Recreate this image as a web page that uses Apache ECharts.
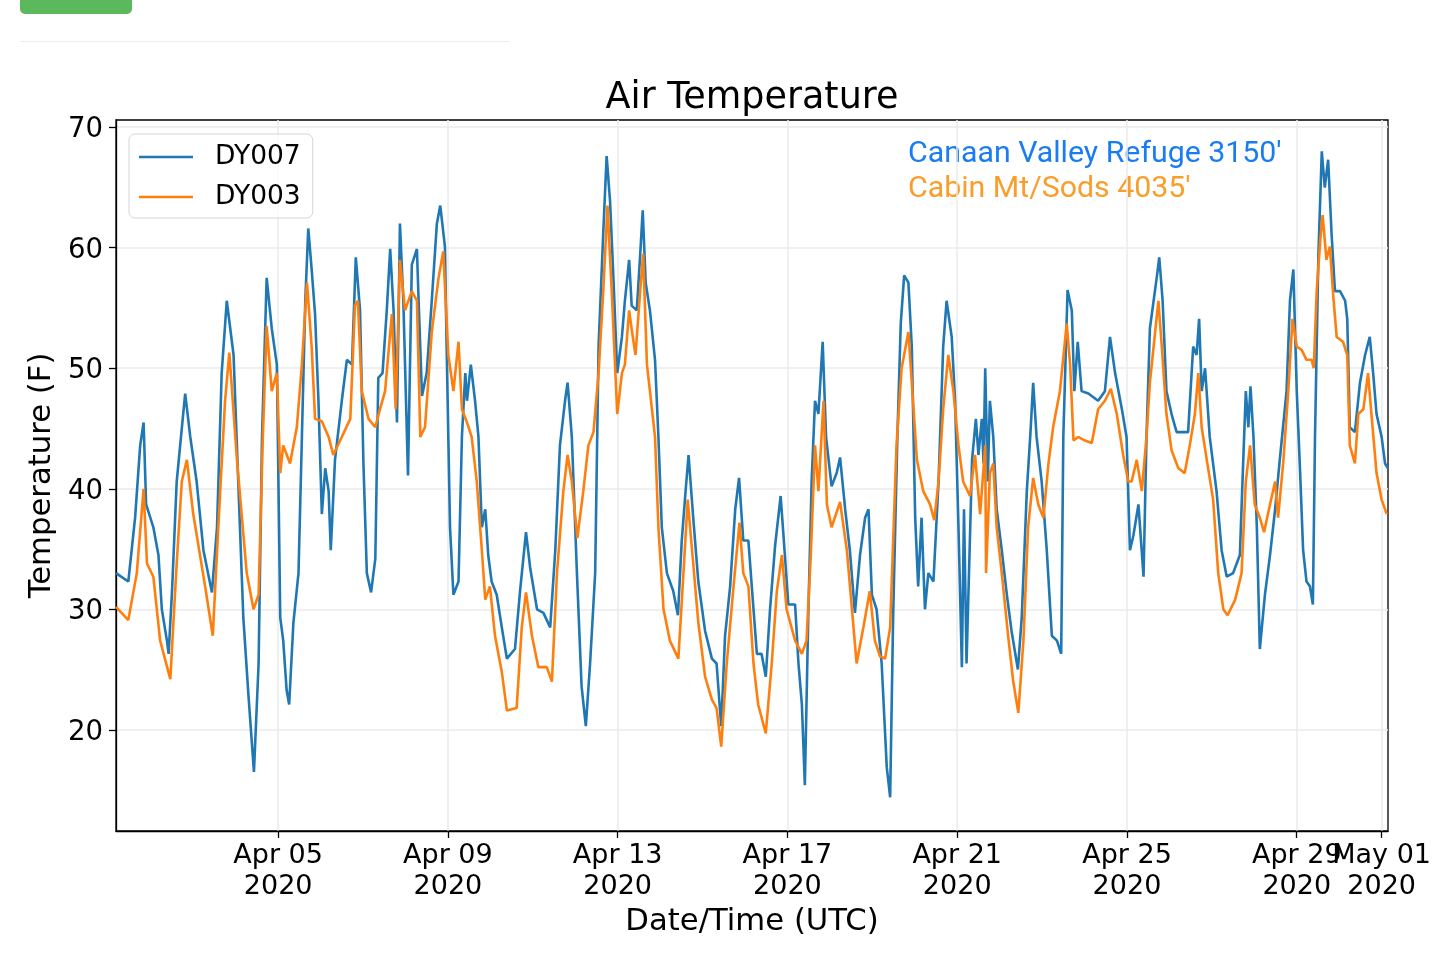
<!DOCTYPE html>
<html>
<head>
<meta charset="utf-8">
<title>Air Temperature</title>
<script src="https://cdn.jsdelivr.net/npm/echarts@6.0.0/dist/echarts.min.js"></script>
<style>
	html, body { margin: 0; padding: 0; background: #fff; }
	#chart { width: 1440px; height: 955px; }
	.btn-top { position: absolute; left: 20px; top: -10px; width: 112px; height: 24px; background: #5cb85c; border-radius: 5px; }
	.rule-top { position: absolute; left: 20px; top: 41px; width: 490px; height: 1px; background: #eeeeee; }
</style>
</head>
<body>
<div class="btn-top"></div>
<div class="rule-top"></div>
<div id="chart"></div>
<script type="text/javascript">
	// days since 2020-04-01 00:00 UTC, temperature (F)
	var dy007Days = [0.18,0.47,0.63,0.75,0.83,0.89,1.06,1.18,1.26,1.38,1.42,1.50,1.61,1.73,1.81,1.93,2.08,2.24,2.44,2.56,2.67,2.79,2.95,3.06,3.18,3.30,3.43,3.54,3.62,3.73,
		3.85,3.97,4.05,4.12,4.20,4.26,4.36,4.48,4.56,4.64,4.71,4.79,4.87,4.95,5.03,5.11,5.19,5.24,5.34,5.50,5.62,5.74,5.83,5.93,6.01,6.09,6.19,6.29,6.36,6.46,6.56,6.64,6.72,6.80,6.87,6.95,7.06,7.15,7.27,7.31,7.39,7.50,7.62,7.74,7.82,7.93,
		7.97,8.05,8.13,8.25,8.33,8.41,8.45,8.54,8.64,8.72,8.80,8.88,8.95,9.03,9.15,9.27,9.39,9.58,9.70,9.84,9.94,10.10,10.25,10.41,10.53,10.64,10.76,10.82,10.92,11.04,11.15,11.25,11.35,11.47,11.55,11.66,11.74,11.82,11.90,11.99,12.10,
		12.17,12.27,12.33,12.45,12.53,12.59,12.66,12.76,12.88,12.96,13.04,13.16,13.31,13.42,13.51,13.60,13.67,13.78,13.90,14.06,14.22,14.33,14.44,14.53,14.65,14.77,14.86,14.96,15.08,15.16,15.28,15.39,15.49,15.59,15.71,15.84,15.94,16.02,
		16.18,16.26,16.34,16.41,16.49,16.57,16.65,16.73,16.83,16.91,17.04,17.16,17.24,17.36,17.47,17.59,17.71,17.83,17.91,17.99,18.10,18.22,18.34,18.42,18.49,18.59,18.67,18.75,18.85,18.93,19.01,19.08,19.16,19.24,19.32,19.44,19.56,19.67,19.75,19.87,19.95,20.03,20.11,20.16,20.22,
		20.35,20.44,20.50,20.58,20.62,20.66,20.72,20.77,20.85,20.93,21.05,21.17,21.28,21.43,21.52,21.64,21.72,21.79,21.87,21.99,22.11,22.23,22.35,22.45,22.50,22.60,22.70,22.76,22.84,22.93,23.09,23.32,23.48,23.60,23.72,23.88,23.99,24.07,24.15,24.27,24.39,24.46,24.54,
		24.70,24.76,24.84,24.93,25.05,25.17,25.32,25.44,25.56,25.64,25.70,25.76,25.84,25.95,26.11,26.23,26.35,26.50,26.66,26.74,26.80,26.86,26.91,26.98,27.06,27.13,27.25,27.37,27.49,27.60,27.76,27.84,27.92,28.00,28.08,28.15,28.23,28.31,28.38,28.43,28.51,28.59,28.66,28.74,28.82,28.90,29.02,29.14,29.19,29.25,29.37,29.49,29.61,29.72,29.80,29.88,30.00,30.08,30.15];
	var dy007Temp = [33.0,32.3,37.6,43.6,45.5,38.7,36.8,34.5,30,27.4,26.3,31.5,40.6,45,47.9,44.3,40.6,34.9,31.4,36.8,49.6,55.6,51.1,40.6,29.3,22.9,16.5,25.5,44.3,57.5,
		53.3,50.3,29.3,27.4,23.3,22.1,28.9,33,44.3,55.6,61.6,58.2,54.5,47.3,37.9,41.7,39.8,34.9,42.4,47.3,50.7,50.3,59.2,54.8,42.1,33,31.4,34.2,49.2,49.6,54.8,59.9,54.8,45.5,62,55.6,41.1,58.6,59.9,55.6,47.7,49.6,55.6,62,63.5,60.1,
		51.8,36.8,31.2,32.3,44.3,49.6,47.3,50.3,47.3,44.3,36.8,38.3,34.5,32.3,31.2,28.5,25.9,26.7,31.5,36.4,33.4,30,29.7,28.5,34.9,43.6,47.3,48.8,44.3,33,23.6,20.3,25.5,33,51.8,61.2,67.6,63.9,57.5,49.6,52.6,
		55.6,59,55.2,54.8,59.4,63.1,57.1,54.8,50.7,44.3,36.8,33,31.5,29.5,35.7,39.8,42.8,37.6,32.3,28.2,25.9,25.5,20.3,27.8,31.9,38.3,40.9,35.7,35.7,31.9,26.3,26.3,24.4,30,35.3,39.4,34.5,30.4,
		30.4,25.5,22.1,15.4,29.3,40.6,47.3,46.2,52.2,44.3,40.2,41.3,42.6,38.3,34.9,29.7,34.5,37.6,38.3,31.2,30,25.5,16.9,14.4,29.3,44.3,53.7,57.7,57.1,51.8,37.6,31.9,37.6,30,33,32.3,40.6,51.8,55.6,52.6,47.3,36.8,25.2,38.3,25.5,
		42.4,45.8,42.8,45.8,42.1,50,40.6,47.3,44.3,38.3,34.9,31.2,28.2,25,29.3,39.8,44.3,48.8,44.3,40.6,34.9,27.8,27.4,26.3,44.3,56.5,54.8,48.1,52.2,48.1,47.9,47.3,48.1,52.6,49.6,46.6,44.3,34.9,36.1,38.7,32.7,44.3,53.3,
		57.5,59.2,55.6,48.1,46.2,44.7,44.7,44.7,51.8,51.1,54.1,48.1,50,44.3,39.8,34.9,32.7,33,34.5,42.4,48.1,45.1,48.5,44.3,36.8,26.7,31.2,34.5,38.3,42.4,48.1,55.6,58.2,48.1,41.3,34.9,32.3,31.9,30.4,44.3,59.4,68,65,67.3,61.2,56.4,56.4,55.6,54.1,45.1,44.7,48.8,51.1,52.6,49.6,46.2,44.3,42.1,41.7];

	var dy003Days = [0.18,0.47,0.67,0.83,0.91,1.06,1.22,1.46,1.61,1.73,1.85,2.00,2.28,2.46,2.59,2.75,2.85,3.03,3.26,3.42,3.54,3.64,3.73,
		3.85,3.97,4.05,4.12,4.28,4.44,4.56,4.68,4.79,4.87,5.03,5.19,5.30,5.50,5.70,5.81,5.88,5.97,6.13,6.29,6.40,6.52,6.68,6.77,6.87,6.99,7.15,7.27,7.35,7.46,7.62,7.78,7.89,
		8.01,8.13,8.25,8.33,8.45,8.56,8.68,8.80,8.88,8.99,9.11,9.27,9.39,9.62,9.74,9.84,9.98,10.13,10.33,10.45,10.57,10.72,10.82,10.92,11.05,11.19,11.31,11.43,11.55,11.66,11.76,11.86,11.99,12.10,
		12.17,12.27,12.34,12.42,12.53,12.60,12.69,12.76,12.88,12.96,13.08,13.23,13.43,13.55,13.65,13.78,13.90,14.06,14.22,14.33,14.44,14.57,14.73,14.87,14.96,15.08,15.20,15.31,15.49,15.63,15.75,15.87,15.98,
		16.18,16.34,16.45,16.55,16.65,16.73,16.85,16.93,17.04,17.24,17.40,17.51,17.63,17.79,17.94,18.06,18.18,18.30,18.42,18.57,18.69,18.85,18.93,19.05,19.20,19.36,19.46,19.56,19.67,19.79,
		19.91,20.03,20.14,20.30,20.42,20.54,20.66,20.68,20.77,20.85,20.93,21.05,21.20,21.32,21.44,21.56,21.67,21.79,21.91,22.03,22.15,22.26,22.42,22.58,22.66,22.74,22.85,23.01,23.17,23.32,
		23.48,23.62,23.76,23.91,24.03,24.11,24.23,24.35,24.46,24.54,
		24.74,24.82,24.93,25.05,25.21,25.36,25.48,25.60,25.68,25.76,25.88,26.03,26.15,26.27,26.37,26.55,26.70,26.80,26.90,27.01,27.13,27.23,27.37,27.49,27.56,27.68,27.80,27.90,28.00,28.12,
		28.23,28.35,28.40,28.47,28.56,28.61,28.70,28.78,28.86,28.94,29.09,29.19,29.25,29.37,29.45,29.57,29.68,29.76,29.88,30.00,30.12];
	var dy003Temp = [30.2,29.1,33,40,33.8,32.7,27.4,24.2,33.8,40.6,42.4,37.9,31.9,27.8,36.8,47.3,51.3,42.4,33,30,31.2,44.3,53.5,
		48.1,49.6,41.3,43.6,42.1,45.1,50.3,57.1,51.8,45.8,45.6,44.3,42.8,44.3,45.8,55.2,55.6,48.1,45.8,45.1,46.6,48.1,54.5,46.6,59,54.8,56.4,55.6,44.3,45.1,53,57.5,59.7,
		51.1,48.1,52.2,46.6,45.5,44.3,40.6,34.9,30.8,31.9,27.8,24.8,21.6,21.8,28.5,31.4,27.8,25.2,25.2,24,33,39.8,42.8,40.6,35.9,39.8,43.6,44.7,49.6,56.4,63.5,56.4,46.2,49.6,
		50.3,54.8,53,51.1,56.4,59.5,50.3,48.1,44.3,36.8,30,27.4,25.9,33,39.1,33.8,28.9,24.4,22.5,21.8,18.6,25.5,31.9,37.2,33,31.9,25.5,22.1,19.7,25.5,31.5,34.5,30,
		27.4,26.3,27.4,34.5,43.6,39.8,47.3,38.7,36.8,38.9,34.9,30.4,25.5,28.5,31.5,27.4,26.1,25.9,28.5,43.6,50,53,48.8,42.4,39.8,38.7,37.4,40.6,46.6,51.1,
		48.1,43.6,40.6,39.4,42.8,37.9,43.6,33,41.3,42.1,36.8,33,27.8,24,21.4,27.4,36.8,40.9,38.7,37.6,42.1,45.1,48.1,53.7,50.3,44,44.3,44,43.8,46.6,
		47.3,48.3,46.2,42.8,40.6,40.6,42.4,39.8,44.3,48.8,
		55.6,51.8,46.2,43.2,41.7,41.3,43.6,46.2,49.6,45.1,42.4,39.1,33,30,29.5,30.8,33,40.6,43.6,38.7,37.6,36.4,38.7,40.6,37.6,42.1,48.1,54.1,51.8,51.5,
		50.7,50.7,50,56.4,60.9,62.7,59,60.1,56,52.6,52.2,51.1,43.6,42.1,46.2,46.6,49.6,46.2,41.3,39.1,37.9];

	var xTickDates = ['2020-04-05','2020-04-09','2020-04-13','2020-04-17','2020-04-21','2020-04-25','2020-04-29','2020-05-01'];
	var yTicks = [20, 30, 40, 50, 60, 70];
	var monthNames = ['Jan','Feb','Mar','Apr','May','Jun','Jul','Aug','Sep','Oct','Nov','Dec'];

	var start = Date.UTC(2020, 3, 1);
	function toPairs(days, temps) {
		var out = [];
		for (var i = 0; i < days.length; i++) {
			out.push([start + days[i] * 86400000, temps[i]]);
		}
		return out;
	}
	var data007 = toPairs(dy007Days, dy007Temp);
	var data003 = toPairs(dy003Days, dy003Temp);
	var xTicks = xTickDates.map(function (s) { return Date.parse(s + 'T00:00:00Z'); });
	var xMin = data007[0][0];
	var xMax = data007[data007.length - 1][0];

	var mplFont = 'DejaVu Sans';
	var gridColor = '#ebebeb';

	function dateLabel(v) {
		var d = new Date(v);
		var day = d.getUTCDate();
		return monthNames[d.getUTCMonth()] + ' ' + (day < 10 ? '0' + day : day) + '\n' + d.getUTCFullYear();
	}
	var xLabelStyle = { margin: 9, fontFamily: mplFont, fontSize: 27, lineHeight: 31, color: '#000', formatter: dateLabel, hideOverlap: false };

	option = {
		animation: false,
		title: {
			text: 'Air Temperature',
			left: 752,
			textAlign: 'center',
			top: 80,
			padding: 0,
			textStyle: { fontFamily: mplFont, fontSize: 36.5, fontWeight: 'normal', color: '#000' }
		},
		legend: {
			data: ['DY007', 'DY003'],
			orient: 'vertical',
			left: 129,
			top: 134,
			icon: 'rect',
			itemWidth: 54,
			itemHeight: 2.5,
			itemGap: 10,
			padding: [8, 12, 6, 10],
			backgroundColor: 'rgba(255,255,255,0.8)',
			borderColor: '#d5d5d5',
			borderWidth: 1,
			borderRadius: 6,
			textStyle: { fontFamily: mplFont, fontSize: 26.5, color: '#000', lineHeight: 30, padding: [0, 0, 0, 17] }
		},
		grid: {
			left: 116,
			top: 120,
			width: 1272,
			height: 711,
			show: true,
			borderColor: '#000',
			borderWidth: 1.3,
			containLabel: false
		},
		xAxis: [{
			// timestamps (ms, UTC) on a plain value scale so the date ticks can be placed exactly
			type: 'value',
			position: 'bottom',
			min: xMin,
			max: xMax,
			name: 'Date/Time (UTC)',
			nameLocation: 'middle',
			nameGap: 72,
			nameTextStyle: { fontFamily: mplFont, fontSize: 30.7, color: '#000' },
			axisLine: { show: true, lineStyle: { color: '#000', width: 1.3 } },
			axisTick: { show: true, customValues: xTicks, length: 7, lineStyle: { color: '#000', width: 1.3 } },
			axisLabel: Object.assign({ customValues: xTicks.slice(0, 7) }, xLabelStyle),
			splitLine: { show: true, lineStyle: { color: gridColor, width: 1.5 } }
		}, {
			// May 01 sits on top of Apr 29 in the original; a second axis keeps it from being dropped
			type: 'value',
			position: 'bottom',
			min: xMin,
			max: xMax,
			axisLine: { show: false },
			axisTick: { show: false },
			axisLabel: Object.assign({ customValues: xTicks.slice(7) }, xLabelStyle),
			splitLine: { show: false }
		}],
		yAxis: {
			type: 'value',
			min: 11.6,
			max: 70.6,
			name: 'Temperature (F)',
			nameLocation: 'middle',
			nameGap: 44,
			nameTextStyle: { fontFamily: mplFont, fontSize: 30.7, color: '#000' },
			axisLine: { show: true, lineStyle: { color: '#000', width: 1.3 } },
			axisTick: { show: true, customValues: yTicks, length: 7, lineStyle: { color: '#000', width: 1.3 } },
			axisLabel: {
				customValues: yTicks,
				margin: 13,
				formatter: function (v) { return '{v|' + v + '}'; },
				rich: { v: { fontFamily: mplFont, fontSize: 27.5, color: '#000', padding: [6, 0, 0, 0] } }
			},
			splitLine: { show: true, lineStyle: { color: gridColor, width: 1.5 } }
		},
		graphic: [
			{ type: 'text', x: 908, y: 154, style: { text: "Canaan Valley Refuge 3150'", fill: '#1a7cf2', font: '30.3px Roboto', verticalAlign: 'middle' } },
			{ type: 'text', x: 908, y: 189, style: { text: "Cabin Mt/Sods 4035'", fill: '#f99d2b', font: '30.3px Roboto', verticalAlign: 'middle' } }
		],
		series: [
			{
				name: 'DY007',
				type: 'line',
				data: data007,
				showSymbol: false,
				symbol: 'none',
				color: '#1f77b4',
				lineStyle: { color: '#1f77b4', width: 2.6 }
			},
			{
				name: 'DY003',
				type: 'line',
				data: data003,
				showSymbol: false,
				symbol: 'none',
				color: '#ff7f0e',
				lineStyle: { color: '#ff7f0e', width: 2.6 }
			}
		]
	};

	var myChart = echarts.init(document.getElementById('chart'));
	myChart.setOption(option);
</script>
</body>
</html>
